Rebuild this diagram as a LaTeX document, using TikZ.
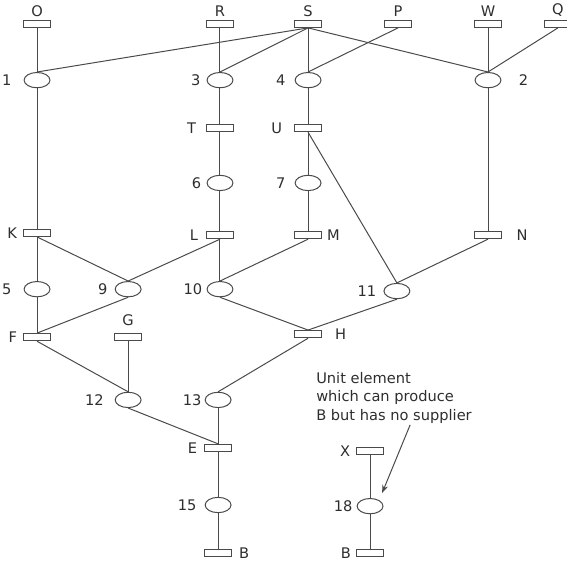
\documentclass[tikz,border=0pt]{standalone}
\usepackage{fontspec}
\setmainfont{DejaVu Sans}
\usepackage{xcolor}
\usepackage{tikz}
\usetikzlibrary{arrows.meta,shapes.geometric}
\definecolor{linegray}{HTML}{4A4A4A}
\definecolor{textgray}{HTML}{2E2E2E}

\begin{document}
\begin{tikzpicture}[
    font=\fontsize{11}{13.9}\selectfont,
    stream/.style={draw=linegray, rectangle, minimum width=20pt, minimum height=5.4pt, inner sep=0pt, line width=0.75pt},
    unit/.style={draw=linegray, ellipse, minimum width=19.5pt, minimum height=11.5pt, inner sep=0pt, line width=0.75pt},
    link/.style={linegray, line width=0.75pt},
    every label/.append style={inner sep=1pt, text=textgray}
]
    \useasboundingbox (0,0) rectangle (15,15);

    % Zulieferer (obere Reihe)
    \node[stream, label={[label distance=1.2pt]above:O}] (O) at (0.98,14.37) {};
    \node[stream, label={[label distance=1.2pt]above:R}] (R) at (5.82,14.37) {};
    \node[stream, label={[label distance=1.2pt]above:S}] (S) at (8.15,14.37) {};
    \node[stream, label={[label distance=1.2pt]above:P}] (P) at (10.53,14.37) {};
    \node[stream, label={[label distance=1.2pt]above:W}] (W) at (12.91,14.37) {};
    \node[stream, label={[label distance=1.2pt]above:Q}] (Q) at (14.76,14.37) {};

    % Erste Einheiten
    \node[unit, label={[label distance=8pt]left:1}] (u1) at (0.98,12.88) {};
    \node[unit, label={[label distance=3.5pt]left:3}] (u3) at (5.82,12.88) {};
    \node[unit, label={[label distance=5.7pt]left:4}] (u4) at (8.15,12.88) {};
    \node[unit, label={[label distance=12pt]right:2}] (u2) at (12.91,12.88) {};

    % Zwischenströme T, U
    \node[stream, label={[label distance=6.5pt]left:T}] (T) at (5.82,11.61) {};
    \node[stream, label={[label distance=8pt]left:U}] (U) at (8.15,11.61) {};

    \node[unit, label={[label distance=2.8pt]left:6}] (u6) at (5.82,10.16) {};
    \node[unit, label={[label distance=5.7pt]left:7}] (u7) at (8.15,10.16) {};

    % Ströme K, L, M, N
    \node[stream, label={[label distance=3.5pt]left:K}] (K) at (0.98,8.84) {};
    \node[stream, label={[label distance=5pt]left:L}] (L) at (5.82,8.78) {};
    \node[stream, label={[label distance=2.8pt]right:M}] (M) at (8.15,8.78) {};
    \node[stream, label={[label distance=10pt]right:N}] (N) at (12.91,8.78) {};

    \node[unit, label={[label distance=8pt]left:5}] (u5) at (0.98,7.35) {};
    \node[unit, label={[label distance=4.2pt]left:9}] (u9) at (3.39,7.35) {};
    \node[unit, label={[label distance=2pt]left:10}] (u10) at (5.82,7.35) {};
    \node[unit, label={[label distance=4.2pt]left:11}] (u11) at (10.50,7.30) {};

    % Ströme F, G, H
    \node[stream, label={[label distance=3.5pt]left:F}] (F) at (0.98,6.08) {};
    \node[stream, label={[label distance=4pt]above:G}] (G) at (3.39,6.08) {};
    \node[stream, label={[label distance=8.7pt]right:H}] (H) at (8.15,6.16) {};

    \node[unit, label={[label distance=7pt]left:12}] (u12) at (3.39,4.42) {};
    \node[unit, label={[label distance=1.2pt]left:13}] (u13) at (5.77,4.42) {};

    % Produkt B
    \node[stream, label={[label distance=4.2pt]left:E}] (E) at (5.77,3.15) {};
    \node[unit, label={[label distance=5pt]left:15}] (u15) at (5.77,1.64) {};
    \node[stream, label={[label distance=4.2pt]right:B}] (B) at (5.77,0.37) {};

    % Einheit ohne Zulieferer
    \node[stream, label={[label distance=3.5pt]left:X}] (X) at (9.79,3.07) {};
    \node[unit, label={[label distance=2pt]left:18}] (u18) at (9.79,1.61) {};
    \node[stream, label={[label distance=2.8pt]left:B}] (B2) at (9.79,0.37) {};

    % Verbindungen
    \draw[link] (O.south) -- (u1.north);
    \draw[link] (S.south) -- (u1.north);
    \draw[link] (R.south) -- (u3.north);
    \draw[link] (S.south) -- (u3.north);
    \draw[link] (S.south) -- (u4.north);
    \draw[link] (P.south) -- (u4.north);
    \draw[link] (S.south) -- (u2.north);
    \draw[link] (W.south) -- (u2.north);
    \draw[link] (Q.south) -- (u2.north);

    \draw[link] (u1.south) -- (K.north);
    \draw[link] (u3.south) -- (T.north);
    \draw[link] (T.south) -- (u6.north);
    \draw[link] (u6.south) -- (L.north);
    \draw[link] (u4.south) -- (U.north);
    \draw[link] (U.south) -- (u7.north);
    \draw[link] (u7.south) -- (M.north);
    \draw[link] (U.south) -- (u11.north);
    \draw[link] (u2.south) -- (N.north);

    \draw[link] (K.south) -- (u5.north);
    \draw[link] (K.south) -- (u9.north);
    \draw[link] (L.south) -- (u9.north);
    \draw[link] (L.south) -- (u10.north);
    \draw[link] (M.south) -- (u10.north);
    \draw[link] (N.south) -- (u11.north);

    \draw[link] (u5.south) -- (F.north);
    \draw[link] (u9.south) -- (F.north);
    \draw[link] (u10.south) -- (H.north);
    \draw[link] (u11.south) -- (H.north);

    \draw[link] (F.south) -- (u12.north);
    \draw[link] (G.south) -- (u12.north);
    \draw[link] (H.south) -- (u13.north);
    \draw[link] (u12.south) -- (E.north);
    \draw[link] (u13.south) -- (E.north);
    \draw[link] (E.south) -- (u15.north);
    \draw[link] (u15.south) -- (B.north);

    \draw[link] (X.south) -- (u18.north);
    \draw[link] (u18.south) -- (B2.north);

    % Hinweis mit Pfeil
    \node[anchor=north west, align=left, inner sep=0pt, text=textgray] (note) at (8.36,5.16)
        {Unit element\\which can produce\\B but has no supplier};
    \coordinate (tail) at (10.85,3.76);
    \coordinate (tip) at (10.11,1.96);
    \draw[link, -{Stealth[length=6pt, width=4.5pt]}] (tail) -- (tip);

\end{tikzpicture}
\end{document}
